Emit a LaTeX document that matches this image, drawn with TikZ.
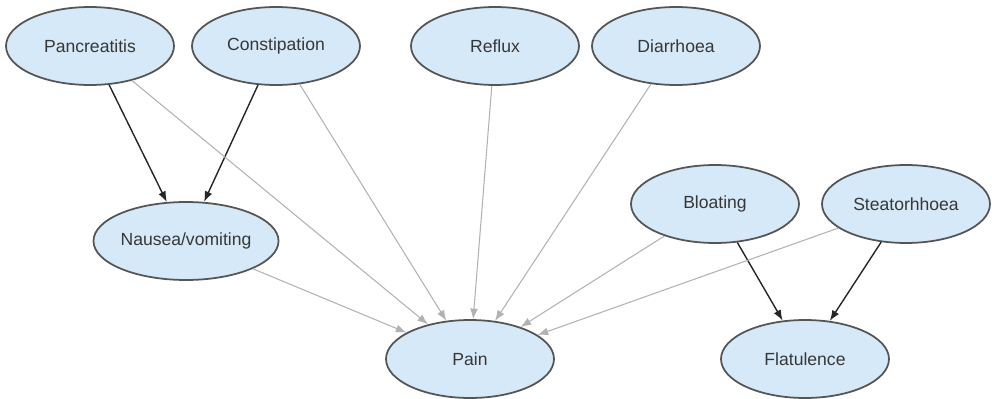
\documentclass[tikz,border=0pt]{standalone}
\usepackage{fontspec}
\setmainfont{Liberation Sans}
\usetikzlibrary{shapes.geometric, arrows.meta}

\definecolor{stateblue}{RGB}{214,233,248}
\definecolor{stateline}{RGB}{85,85,85}
\definecolor{statetext}{RGB}{55,55,55}
\definecolor{linkgray}{RGB}{178,178,178}

\begin{document}
\begin{tikzpicture}[x=0.02cm, y=-0.02cm,
	state/.style={ellipse, draw=stateline, line width=1pt, fill=stateblue,
		text=statetext, minimum width=3.36cm, minimum height=1.56cm,
		inner sep=0pt, font=\fontsize{10}{12}\selectfont},
	strong/.style={thick, -{Latex[length=6pt,width=4.5pt]}, black!85},
	weak/.style={semithick, -{Latex[length=6pt,width=4.5pt]}, linkgray}]
\useasboundingbox (0,0) rectangle (992,399);

\node[state] (Pa) at (90,46)   {Pancreatitis};
\node[state] (Co) at (276,46)  {Constipation};
\node[state] (Re) at (495,46)  {Reflux};
\node[state] (Di) at (676,46)  {Diarrhoea};
\node[state] (Na) at (186,241) {Nausea/vomiting};
\node[state] (Bl) at (715,204) {Bloating};
\node[state] (St) at (906,204) {Steatorhhoea};
\node[state] (Pn) at (470,359) {Pain};
\node[state] (Fl) at (805,359) {Flatulence};

\draw[strong] (Pa) -- (Na);
\draw[strong] (Co) -- (Na);
\draw[strong] (Bl) -- (Fl);
\draw[strong] (St) -- (Fl);

\foreach \s in {Na,Pa,Co,Re,Di,Bl,St}
	\draw[weak] (\s) -- (Pn);
\end{tikzpicture}
\end{document}
